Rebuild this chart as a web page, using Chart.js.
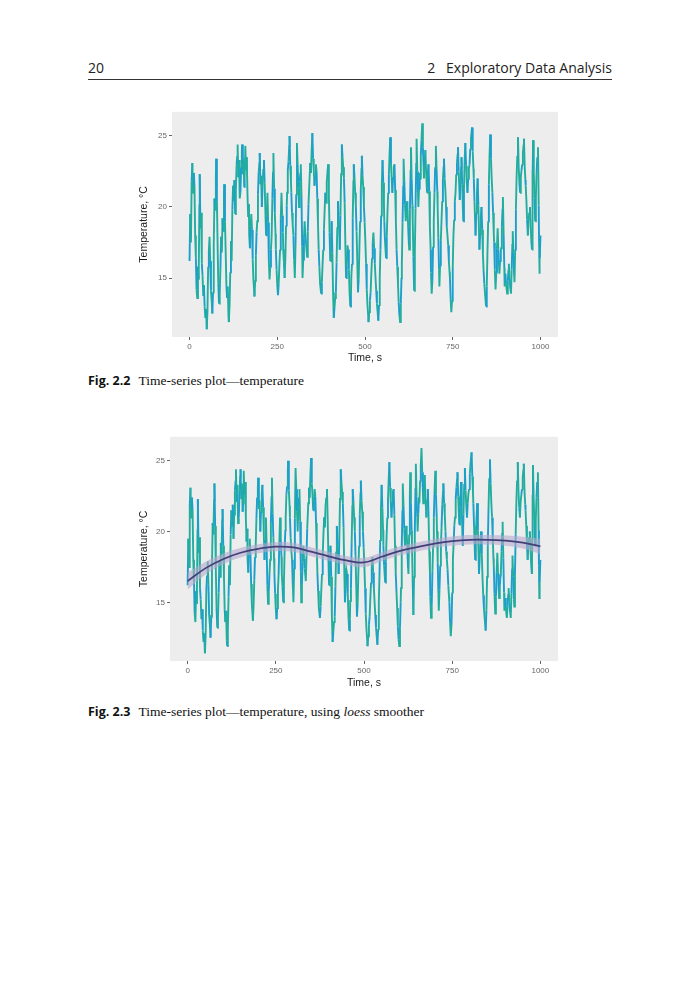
<!DOCTYPE html>
<html>
<head>
<meta charset="utf-8">
<title>Time-series plot - temperature</title>
<script src="https://cdn.jsdelivr.net/npm/chart.js@4.4.1/dist/chart.umd.min.js"></script>
<style>
  body { margin: 0; width: 700px; height: 1000px; background: #fff; position: relative; }
  .runhead { position: absolute; left: 88px; top: 58px; width: 524px; height: 21px;
    border-bottom: 1px solid #333; font-family: "Open Sans", "Noto Sans", sans-serif;
    font-size: 14px; color: #222; }
  .runhead .l { position: absolute; left: 0; top: 0; }
  .runhead .r { position: absolute; right: 0; top: 0; }
  .box { position: absolute; left: 138px; width: 424px; height: 259px; }
  .cap { position: absolute; left: 88px; font-size: 13.5px; color: #111; white-space: nowrap; }
  .cap b { font-family: "Open Sans", "Noto Sans", sans-serif; font-size: 12.5px; margin-right: 8px; }
  .cap span { font-family: "Liberation Serif", "DejaVu Serif", serif; }
</style>
</head>
<body>
<div class="runhead"><span class="l">20</span><span class="r">2&nbsp;&nbsp;&nbsp;Exploratory Data Analysis</span></div>

<div class="box" style="top:105px"><canvas id="fig22"></canvas></div>
<div class="cap" style="top:372px"><b>Fig. 2.2</b><span>Time-series plot—temperature</span></div>

<div class="box" style="top:430px"><canvas id="fig23"></canvas></div>
<div class="cap" style="top:703px"><b>Fig. 2.3</b><span>Time-series plot—temperature, using <i>loess</i> smoother</span></div>

<script>
// temperature trace: [time s, temperature °C]
const tempTrace = [
  [0,16.2],[2,19.5],[4,17.5],[6,21.8],[8,23.1],[10,21.0],[12,22.4],[14,21.5],[16,18.0],[18,16.4],
  [20,14.2],[22,13.6],[24,15.8],[26,14.9],[28,20.1],[29,22.3],[31,18.5],[33,19.6],[35,16.0],[37,15.2],
  [39,13.8],[41,14.5],[43,13.0],[45,12.2],[47,12.8],[49,11.4],[51,12.6],[53,15.8],[55,16.9],[57,17.9],
  [59,16.2],[61,14.1],[63,13.4],[65,12.5],[67,14.0],[69,17.5],[71,20.6],[73,19.8],[75,22.2],[76,23.4],
  [78,20.4],[80,17.2],[82,14.6],[84,13.2],[86,13.9],[88,15.7],[90,17.9],[92,16.8],[94,19.2],[96,18.3],
  [98,20.8],[99,21.6],[101,19.0],[103,16.8],[105,14.5],[107,13.6],[109,14.4],[111,12.3],[112,11.9],[114,13.1],
  [116,15.4],[118,17.6],[120,16.2],[122,19.8],[124,21.5],[126,20.4],[128,21.9],[130,19.5],[132,21.2],[134,22.9],
  [136,23.6],[137,24.4],[139,22.1],[141,23.3],[143,20.6],[145,21.0],[147,22.8],[149,23.9],[150,24.4],[152,22.3],
  [154,23.4],[156,21.4],[157,22.0],[159,24.3],[161,22.6],[163,23.5],[165,21.0],[167,19.3],[169,20.2],[170,18.0],
  [172,17.1],[174,18.6],[176,19.5],[178,18.4],[180,16.3],[182,14.9],[184,14.1],[185,13.7],[187,14.8],[189,16.6],
  [191,18.2],[193,19.0],[195,20.9],[197,22.4],[199,23.1],[200,23.8],[202,21.6],[204,22.2],[206,20.0],[208,21.4],
  [210,22.6],[212,23.3],[214,21.7],[216,19.8],[218,18.0],[220,19.4],[222,21.0],[224,18.9],[226,16.2],[228,14.9],
  [230,15.8],[232,17.0],[234,18.0],[236,20.6],[238,22.5],[239,23.8],[241,21.3],[243,19.6],[245,18.1],[246,17.0],
  [248,15.6],[250,14.5],[252,13.8],[254,14.6],[256,15.9],[258,17.0],[260,19.2],[262,21.0],[264,19.4],[266,18.2],
  [267,17.0],[269,16.1],[271,15.0],[273,16.4],[275,18.7],[277,20.1],[278,21.0],[280,22.6],[282,23.2],[284,24.3],
  [285,25.0],[287,22.9],[289,21.8],[290,21.0],[292,19.6],[294,18.7],[296,18.0],[298,16.3],[300,15.0],[302,17.4],
  [304,20.9],[306,24.5],[308,23.0],[310,21.4],[312,20.0],[314,21.8],[316,22.4],[317,23.0],[319,20.7],[321,17.2],
  [322,15.0],[324,16.3],[326,17.8],[328,19.0],[330,18.1],[332,17.4],[335,16.5],[337,18.3],[339,20.2],[342,22.0],
  [344,23.1],[346,22.4],[348,24.0],[350,25.2],[352,23.4],[354,22.6],[356,21.5],[358,22.1],[360,23.0],[362,22.5],
  [364,20.6],[366,18.8],[368,17.0],[370,15.8],[372,14.6],[375,13.9],[377,14.7],[379,15.9],[381,17.0],[383,18.4],
  [385,19.8],[387,21.0],[389,20.3],[391,21.8],[393,22.4],[395,23.0],[397,20.9],[399,18.2],[401,16.2],[403,17.4],
  [405,19.0],[407,16.8],[409,14.0],[411,12.2],[413,12.9],[415,13.6],[417,14.0],[419,16.1],[421,18.5],[423,20.4],
  [425,19.1],[427,17.9],[428,17.0],[430,19.4],[432,22.3],[434,24.4],[436,23.5],[438,22.8],[440,22.0],[442,20.3],
  [444,17.4],[446,15.0],[448,15.9],[450,17.3],[452,17.0],[454,15.6],[456,14.0],[458,13.0],[460,13.8],[461,15.1],
  [463,16.0],[465,19.2],[467,21.8],[468,23.0],[470,22.1],[472,21.0],[474,20.0],[476,18.3],[478,16.2],[480,14.0],
  [482,14.9],[484,17.1],[486,19.0],[488,21.2],[490,22.7],[491,23.6],[493,22.2],[495,21.4],[497,20.0],[499,18.9],
  [501,17.6],[503,16.0],[505,14.2],[507,13.1],[509,12.4],[510,11.9],[512,12.6],[514,13.4],[516,14.0],[518,15.3],
  [520,16.4],[522,17.5],[524,18.2],[526,17.1],[528,16.0],[530,15.0],[532,14.1],[534,13.2],[536,12.6],[538,12.0],
  [540,13.1],[542,15.0],[544,17.0],[546,19.4],[548,21.6],[550,23.3],[552,21.7],[554,20.1],[555,19.0],[557,17.6],
  [559,16.8],[560,16.4],[562,17.9],[564,19.6],[566,21.0],[568,22.3],[570,23.7],[572,24.9],[574,23.1],[576,22.0],
  [578,21.0],[580,22.1],[582,22.8],[584,23.0],[586,21.2],[588,19.0],[590,17.0],[592,15.8],[594,14.6],[596,13.3],
  [598,12.4],[600,11.9],[602,13.2],[604,15.0],[605,16.0],[607,18.9],[609,21.5],[610,23.4],[612,21.8],[614,20.2],
  [616,19.0],[618,19.7],[620,20.4],[621,20.0],[623,18.6],[625,17.4],[626,17.0],[628,19.8],[630,22.6],[631,24.2],
  [633,22.0],[635,20.1],[636,19.0],[638,16.5],[640,14.1],[642,16.8],[644,19.9],[646,23.1],[647,24.8],[649,22.5],
  [651,21.0],[652,20.0],[654,21.3],[656,22.4],[657,22.0],[659,23.6],[661,24.7],[663,25.9],[665,24.2],[667,22.8],
  [668,22.0],[670,23.1],[672,24.0],[674,22.6],[676,21.4],[677,21.0],[679,22.2],[681,23.0],[683,21.1],[685,18.6],
  [687,17.0],[688,15.4],[690,13.9],[692,14.8],[694,17.2],[696,19.0],[698,21.0],[700,22.8],[702,24.3],[704,22.6],
  [706,21.1],[707,20.0],[709,17.8],[711,15.6],[712,14.4],[714,15.9],[716,17.6],[718,19.0],[720,20.4],[722,21.9],
  [724,22.8],[725,23.4],[727,22.0],[729,21.2],[731,20.0],[733,18.6],[735,18.0],[737,17.3],[739,16.2],[741,15.4],
  [742,15.0],[744,13.6],[746,12.6],[748,13.4],[750,15.7],[752,18.0],[754,19.1],[756,20.4],[758,21.0],[760,22.3],
  [762,23.1],[764,23.7],[765,24.2],[767,22.5],[769,21.2],[770,20.5],[772,21.7],[774,22.8],[775,23.5],[777,21.6],
  [779,19.8],[780,19.0],[782,21.2],[784,23.3],[786,24.5],[788,22.9],[790,21.8],[792,21.0],[794,22.0],[796,22.7],
  [798,23.0],[800,24.1],[802,24.8],[805,25.6],[807,23.9],[809,22.7],[810,22.0],[812,20.4],[814,18.8],[815,18.0],
  [817,19.6],[819,21.0],[821,22.0],[823,20.1],[825,18.2],[826,17.0],[828,18.1],[830,19.3],[832,20.0],[834,18.4],
  [836,16.7],[838,15.5],[840,14.6],[842,13.9],[845,13.0],[847,14.4],[849,16.8],[851,19.0],[853,21.6],[855,23.7],
  [857,25.1],[859,23.4],[861,22.0],[863,21.0],[865,19.6],[867,18.1],[868,17.5],[870,15.6],[872,14.2],[874,15.4],
  [876,17.1],[878,18.5],[880,17.0],[882,15.8],[883,15.3],[885,16.2],[887,16.9],[888,17.1],[890,18.6],[892,19.9],
  [893,20.7],[895,18.1],[897,15.7],[898,14.4],[900,15.3],[902,14.6],[905,13.9],[907,14.8],[909,15.6],[910,16.0],
  [912,15.0],[914,14.3],[916,13.9],[918,15.6],[920,17.4],[921,18.3],[923,16.8],[925,15.2],[926,14.7],[928,17.0],
  [930,19.8],[932,22.1],[934,23.6],[936,24.9],[938,22.8],[940,21.7],[942,21.0],[944,22.1],[946,22.6],[948,23.0],
  [950,23.8],[952,24.4],[953,24.8],[955,22.9],[957,21.9],[958,21.5],[960,20.4],[962,19.1],[964,18.0],[966,18.9],
  [968,19.6],[970,20.0],[972,18.8],[974,17.6],[976,17.0],[977,19.5],[978,22.6],[979,24.7],[981,22.4],[983,20.6],
  [985,19.0],[987,20.8],[989,22.4],[991,23.5],[993,24.2],[995,20.1],[996,17.6],[997,15.3],[998,16.4],[1000,18.0]
];

const loessTime = [0, 50, 100, 150, 200, 250, 300, 350, 400, 450, 500, 550, 600, 650, 700, 750, 800, 850, 900, 950, 1000];
const loessFit  = [16.5, 17.4, 18.05, 18.5, 18.78, 18.93, 18.88, 18.58, 18.25, 17.96, 17.82, 18.22, 18.62, 18.9, 19.15, 19.33, 19.42, 19.42, 19.36, 19.22, 18.95];
const loessSe   = [0.6, 0.45, 0.38, 0.34, 0.32, 0.32, 0.32, 0.32, 0.32, 0.32, 0.33, 0.32, 0.32, 0.32, 0.32, 0.32, 0.33, 0.34, 0.36, 0.42, 0.55];

const xTicks = [0, 250, 500, 750, 1000];
const yTicks = [15, 20, 25];

const tracePts = tempTrace.map(p => ({ x: p[0], y: p[1] }));
const fitPts = loessTime.map((t, i) => ({ x: t, y: loessFit[i] }));
const hiPts = loessTime.map((t, i) => ({ x: t, y: loessFit[i] + loessSe[i] }));
const loPts = loessTime.map((t, i) => ({ x: t, y: loessFit[i] - loessSe[i] }));

// grey ggplot-ish panel behind the data
const panelBg = {
  id: 'panelBg',
  beforeDatasetsDraw(chart) {
    const a = chart.chartArea, c = chart.ctx;
    c.save();
    c.fillStyle = '#ededed';
    c.fillRect(a.left, a.top, a.right - a.left, a.bottom - a.top);
    c.restore();
  }
};

function traceSet() {
  return {
    data: tracePts,
    borderColor: '#1fa7b8',
    segment: { borderColor: ctx => (ctx.p0DataIndex % 3 === 0 ? '#1c9fcb' : '#22ad9f') },
    borderWidth: 1.9,
    pointRadius: 0,
    tension: 0,
    order: 3
  };
}

function makeOpts(yw, xh) {
  const tickFont = { family: 'Liberation Sans, Arial, sans-serif', size: 8 };
  const titleFont = { family: 'Liberation Sans, Arial, sans-serif', size: 10.5 };
  return {
    responsive: true,
    maintainAspectRatio: false,
    animation: false,
    events: [],
    layout: { padding: { top: 4, right: 4, left: 0, bottom: 0 } },
    plugins: { legend: { display: false }, tooltip: { enabled: false } },
    scales: {
      x: {
        type: 'linear', min: -50, max: 1050,
        afterBuildTicks: s => { s.ticks = xTicks.map(v => ({ value: v })); },
        afterFit: s => { s.height = xh; },
        grid: { drawOnChartArea: false, drawTicks: true, tickLength: 3, color: '#666' },
        border: { display: false },
        ticks: { color: '#666', font: tickFont, padding: 2, maxRotation: 0, callback: v => String(v) },
        title: { display: true, text: 'Time, s', color: '#1a1a1a', font: titleFont, padding: { top: 1, bottom: 0 } }
      },
      y: {
        min: 10.85, max: 26.7,
        afterBuildTicks: s => { s.ticks = yTicks.map(v => ({ value: v })); },
        afterFit: s => { s.width = yw; },
        grid: { drawOnChartArea: false, drawTicks: true, tickLength: 3, color: '#666' },
        border: { display: false },
        ticks: { color: '#666', font: tickFont, padding: 2 },
        title: { display: true, text: 'Temperature, °C', color: '#1a1a1a', font: titleFont, padding: { top: 0, bottom: 2 } }
      }
    }
  };
}

new Chart('fig22', {
  type: 'line',
  data: { datasets: [traceSet()] },
  options: makeOpts(34, 27),
  plugins: [panelBg]
});

new Chart('fig23', {
  type: 'line',
  data: {
    datasets: [
      { data: fitPts, borderColor: '#433f78', borderWidth: 1.7, pointRadius: 0, tension: 0.4, order: 0 },
      { data: hiPts, borderWidth: 0, pointRadius: 0, tension: 0.4, fill: '+1', backgroundColor: 'rgba(180,168,205,0.6)', order: 1 },
      { data: loPts, borderWidth: 0, pointRadius: 0, tension: 0.4, fill: false, order: 2 },
      traceSet()
    ]
  },
  options: makeOpts(32, 28),
  plugins: [panelBg]
});
</script>
</body>
</html>
